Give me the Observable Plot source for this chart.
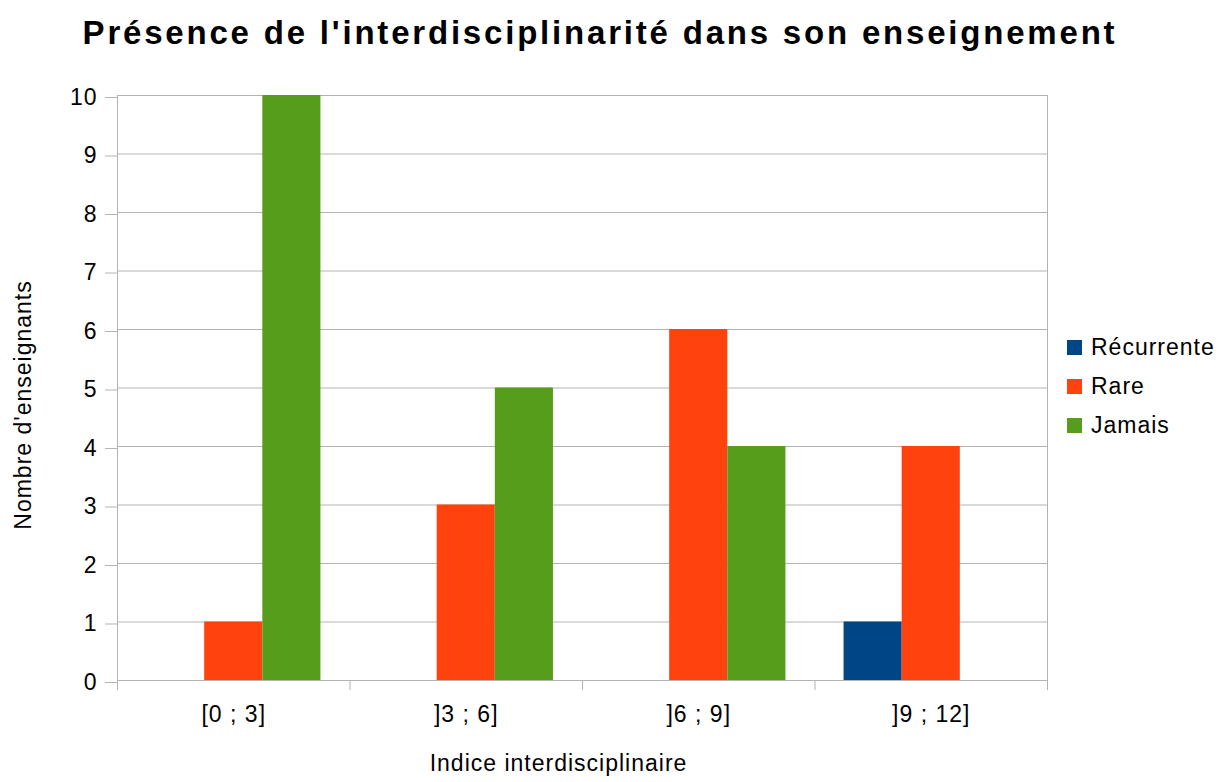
<!DOCTYPE html>
<html>
<head>
<meta charset="utf-8">
<script src="https://cdn.jsdelivr.net/npm/d3@7"></script>
<script src="https://cdn.jsdelivr.net/npm/@observablehq/plot@0.6"></script>
<style>
  html, body { margin: 0; padding: 0; background: #fff; }
  #wrap { position: relative; width: 1220px; height: 782px; font-family: "Liberation Sans", Arial, sans-serif; }
  #title { position: absolute; left: 0; top: 16px; width: 1200px; text-align: center; font-weight: bold; font-size: 33px; letter-spacing: 2.8px; line-height: 1; color: #000; white-space: nowrap; }
  #legend { position: absolute; left: 1067px; top: 328px; font-size: 23px; letter-spacing: 1px; color: #000; }
  .item { display: flex; align-items: center; height: 39px; }
  .sw { width: 15px; height: 15px; margin-right: 9px; }
  #chart { position: absolute; left: 0; top: 0; }
</style>
</head>
<body>
<div id="wrap">
  <div id="chart"></div>
  <div id="title"></div>
  <div id="legend"></div>
</div>
<script>
const title = "Présence de l'interdisciplinarité dans son enseignement";
const xTitle = "Indice interdisciplinaire";
const yTitle = "Nombre d'enseignants";
const categories = ["[0 ; 3]", "]3 ; 6]", "]6 ; 9]", "]9 ; 12]"];
const seriesNames = ["Récurrente", "Rare", "Jamais"];
const seriesColors = ["#004586", "#ff420e", "#579d1c"];
const recurrente = [0, 0, 0, 1];
const rare = [1, 3, 6, 4];
const jamais = [10, 5, 4, 0];
const yTicks = [0, 1, 2, 3, 4, 5, 6, 7, 8, 9, 10];

const seriesValues = [recurrente, rare, jamais];
const slots = seriesNames.length + 1; // bars + half-slot padding on each side
const data = [];
categories.forEach((c, gi) => {
  seriesNames.forEach((s, si) => {
    data.push({category: c, gi, si, series: s, value: seriesValues[si][gi]});
  });
});
const bars = data.filter(d => d.value > 0);
const boundaries = d3.range(categories.length + 1).map(i => i * slots);
const centers = categories.map((c, i) => i * slots + slots / 2);

const grid = "#b3b3b3";
const chart = Plot.plot({
  width: 1220,
  height: 782,
  marginLeft: 117,
  marginRight: 173,
  marginTop: 95,
  marginBottom: 102,
  style: {fontFamily: "'Liberation Sans', Arial, sans-serif", fontSize: "23px", letterSpacing: "1px", color: "#000", background: "transparent"},
  x: {domain: [0, categories.length * slots]},
  y: {domain: [0, 10]},
  color: {domain: seriesNames, range: seriesColors},
  marks: [
    Plot.gridY({ticks: yTicks, stroke: grid, strokeOpacity: 1}),
    Plot.ruleX([boundaries[0], boundaries[boundaries.length - 1]], {stroke: grid}),
    Plot.rectY(bars, {
      x1: d => d.gi * slots + 0.5 + d.si,
      x2: d => d.gi * slots + 1.5 + d.si,
      y: "value",
      fill: "series"
    }),
    Plot.axisY({ticks: yTicks, tickSize: 12, tickPadding: 8, stroke: grid, fill: "#000", label: null, fontSize: 23, dy: 2}),
    Plot.axisX({ticks: boundaries, tickSize: 10, tickFormat: () => "", stroke: grid, label: null}),
    Plot.axisX({ticks: centers, tickSize: 0, tickPadding: 25, tickFormat: v => categories[Math.round((v - slots / 2) / slots)], fill: "#000", label: null, fontSize: 23}),
    Plot.ruleY([0], {stroke: grid}),
    Plot.text([xTitle], {frameAnchor: "bottom", textAnchor: "middle", dy: 90, dx: -24, fontSize: 23, fill: "#000"}),
    Plot.text([yTitle], {frameAnchor: "left", textAnchor: "middle", rotate: -90, dx: -94, dy: 17, fontSize: 23, fill: "#000"})
  ]
});
document.getElementById("chart").appendChild(chart);
document.getElementById("title").textContent = title;
const legend = document.getElementById("legend");
seriesNames.forEach((s, i) => {
  const it = document.createElement("div");
  it.className = "item";
  const sw = document.createElement("div");
  sw.className = "sw";
  sw.style.background = seriesColors[i];
  const t = document.createElement("span");
  t.textContent = s;
  it.appendChild(sw); it.appendChild(t);
  legend.appendChild(it);
});
</script>
</body>
</html>
